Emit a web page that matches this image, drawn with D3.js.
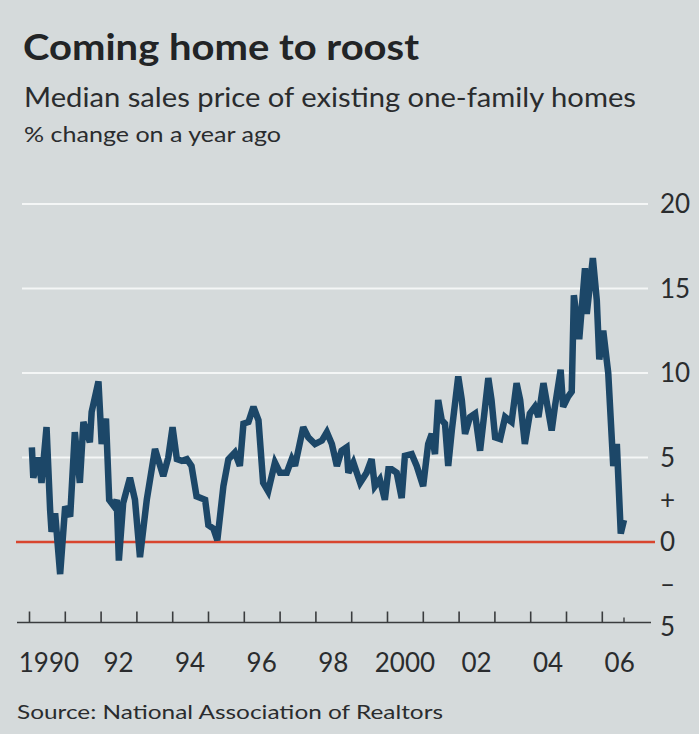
<!DOCTYPE html>
<html>
<head>
<meta charset="utf-8">
<script src="https://cdn.jsdelivr.net/npm/d3@7"></script>
<style>
  html, body { margin: 0; padding: 0; background: #d5dadb; }
  svg { display: block; }
  text { font-family: Lato, "Open Sans", sans-serif; fill: #2a2c2e; }
</style>
</head>
<body>
<svg id="chart" width="699" height="734"></svg>
<script>
// ---- Data ----
const dates = [
  1990.08, 1990.12, 1990.26, 1990.35, 1990.49, 1990.59, 1990.63, 1990.73, 1990.87,
  1991.01, 1991.15, 1991.28, 1991.42, 1991.52, 1991.70, 1991.75, 1991.94,
  1992.03, 1992.15, 1992.24, 1992.38, 1992.45, 1992.51, 1992.63, 1992.82, 1992.96,
  1993.10, 1993.29, 1993.52, 1993.75, 1993.89,
  1994.01, 1994.13, 1994.27, 1994.41, 1994.54, 1994.68, 1994.92,
  1995.01, 1995.15, 1995.26, 1995.43, 1995.57, 1995.75, 1995.89, 1995.99,
  1996.13, 1996.27, 1996.41, 1996.54, 1996.68, 1996.87,
  1997.01, 1997.20, 1997.34, 1997.43, 1997.66, 1997.80, 1997.99,
  1998.18, 1998.32, 1998.46, 1998.60, 1998.73, 1998.87, 1998.92,
  1999.06, 1999.25, 1999.43, 1999.57, 1999.66, 1999.80, 1999.94,
  2000.04, 2000.13, 2000.27, 2000.41, 2000.50, 2000.69, 2000.83,
  2001.01, 2001.15, 2001.25, 2001.34, 2001.43, 2001.53, 2001.62, 2001.71, 2001.81, 2001.99,
  2002.09, 2002.18, 2002.32, 2002.46, 2002.60, 2002.74, 2002.83, 2002.92,
  2003.02, 2003.16, 2003.30, 2003.48, 2003.62, 2003.72, 2003.85, 2003.99,
  2004.13, 2004.23, 2004.37, 2004.60, 2004.69, 2004.85, 2004.92,
  2005.06, 2005.16, 2005.22, 2005.37, 2005.53, 2005.58, 2005.75, 2005.86, 2005.93,
  2006.04, 2006.18, 2006.32, 2006.42, 2006.53, 2006.62
];
const values = [
  5.6, 3.8, 5.0, 3.5, 6.8, 1.9, 0.6, 1.7, -1.9,
  2.1, 1.5, 6.5, 3.5, 7.1, 5.9, 7.7, 9.5,
  5.8, 7.3, 2.5, 2.1, 2.5, -1.1, 2.3, 3.8, 2.5,
  -0.9, 2.5, 5.5, 3.9, 5.0,
  6.8, 4.9, 4.8, 4.9, 4.5, 2.7, 2.5,
  1.0, 0.8, 0.1, 3.3, 4.9, 5.3, 4.5, 7.0,
  7.1, 8.0, 7.2, 3.5, 3.0, 4.7,
  4.1, 4.1, 4.9, 4.5, 6.8, 6.2, 5.8,
  6.0, 6.5, 5.8, 4.5, 5.4, 5.6, 4.1,
  4.7, 3.5, 4.1, 4.9, 3.3, 3.7, 2.5,
  4.3, 4.3, 4.1, 2.6, 5.1, 5.2, 4.5,
  3.3, 5.8, 6.4, 5.2, 8.4, 7.2, 7.0, 4.5, 6.6, 9.8,
  8.4, 6.4, 7.4, 7.6, 5.4, 8.0, 9.7, 8.4,
  6.2, 6.1, 7.4, 7.1, 9.4, 8.4, 5.8, 7.6,
  8.0, 7.4, 9.4, 6.6, 8.0, 10.2, 8.0,
  8.6, 8.9, 14.6, 12.0, 16.2, 13.5, 16.8, 14.3, 10.8,
  12.5, 10.0, 4.5, 5.8, 0.5, 1.3
];
const yearTicks = d3.range(1990, 2007);
const xLabelYears = [1990, 1992, 1994, 1996, 1998, 2000, 2002, 2004, 2006];
const xLabelTexts = ["1990", "92", "94", "96", "98", "2000", "02", "04", "06"];
const gridValues = [5, 10, 15, 20];
const yLabelValues = [20, 15, 10, 5, 2.5, 0, -2.5, -5];
const yLabelTexts = ["20", "15", "10", "5", "+", "0", "\u2013", "5"];

const titleText = "Coming home to roost";
const subtitleText = "Median sales price of existing one-family homes";
const unitText = "% change on a year ago";
const sourceText = "Source: National Association of Realtors";

// ---- Drawing ----
const svg = d3.select("#chart");
const x = d3.scaleLinear().domain([1990, 2007]).range([29, 637.6]);
const y = d3.scaleLinear().domain([-5, 20]).range([626.5, 204]);

// titles
svg.append("text").attr("x", 23).attr("y", 60)
  .attr("font-size", 37).attr("font-weight", 700)
  .attr("textLength", 396).attr("lengthAdjust", "spacingAndGlyphs")
  .style("fill", "#222426").text(titleText);
svg.append("text").attr("x", 24).attr("y", 107)
  .attr("font-size", 27)
  .attr("textLength", 612).attr("lengthAdjust", "spacingAndGlyphs")
  .text(subtitleText);
svg.append("text").attr("x", 24).attr("y", 142)
  .attr("font-size", 21)
  .attr("textLength", 257).attr("lengthAdjust", "spacingAndGlyphs")
  .text(unitText);

// gridlines
svg.append("g").selectAll("line").data(gridValues).join("line")
  .attr("x1", 22).attr("x2", 648)
  .attr("y1", d => y(d)).attr("y2", d => y(d))
  .attr("stroke", "#f4f6f6").attr("stroke-width", 2.2);

// zero line
svg.append("line")
  .attr("x1", 16).attr("x2", 655)
  .attr("y1", y(0)).attr("y2", y(0))
  .attr("stroke", "#d8452e").attr("stroke-width", 2.4);

// x axis
const xAxis = d3.axisBottom(x)
  .tickValues(yearTicks)
  .tickSize(-11)
  .tickFormat("");
const gx = svg.append("g").attr("transform", `translate(0,${y(-5) - 4})`).call(xAxis);
gx.select(".domain").remove();
gx.selectAll(".tick line").attr("stroke", "#3a3c3e").attr("stroke-width", 1.6);
gx.append("line").attr("x1", 17).attr("x2", 651).attr("y1", 0).attr("y2", 0)
  .attr("stroke", "#3a3c3e").attr("stroke-width", 1.6);
// small end-of-data tick
gx.append("line")
  .attr("x1", x(dates[dates.length - 1])).attr("x2", x(dates[dates.length - 1]))
  .attr("y1", 0).attr("y2", -5)
  .attr("stroke", "#3a3c3e").attr("stroke-width", 1.4);

svg.append("g").selectAll("text").data(xLabelYears).join("text")
  .attr("x", (d, i) => x(d + 0.5) + (i === 0 ? 2 : 0))
  .attr("y", 672)
  .attr("text-anchor", "middle")
  .attr("font-size", 26)
  .text((d, i) => xLabelTexts[i]);

// y labels (right side)
svg.append("g").selectAll("text").data(yLabelValues).join("text")
  .attr("x", 660)
  .attr("y", d => y(d) + 9)
  .attr("font-size", 26)
  .text((d, i) => yLabelTexts[i]);

// data line
const line = d3.line().x((d, i) => x(dates[i])).y(d => y(d));
svg.append("path")
  .datum(values)
  .attr("d", line)
  .attr("fill", "none")
  .attr("stroke", "#1c4768")
  .attr("stroke-width", 6.5)
  .attr("stroke-linejoin", "miter")
  .attr("stroke-miterlimit", 3);

// source
svg.append("text").attr("x", 17).attr("y", 719)
  .attr("font-size", 20)
  .attr("textLength", 426).attr("lengthAdjust", "spacingAndGlyphs")
  .text(sourceText);
</script>
</body>
</html>
